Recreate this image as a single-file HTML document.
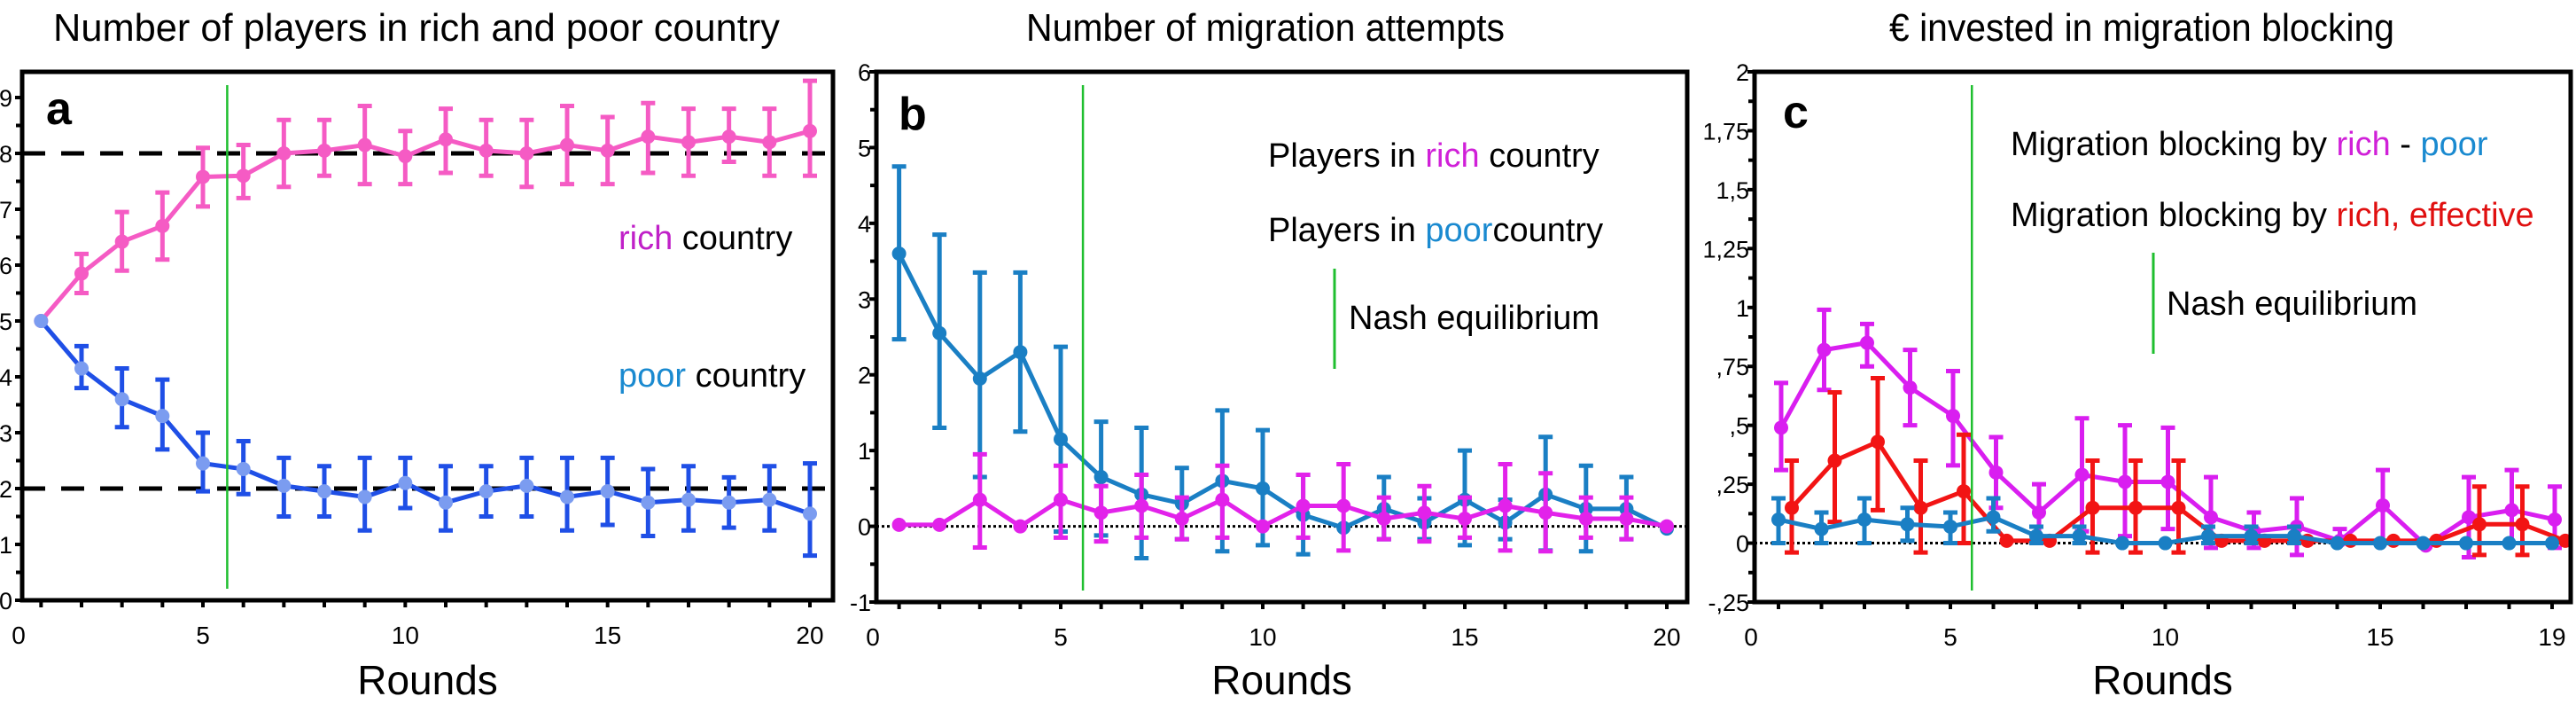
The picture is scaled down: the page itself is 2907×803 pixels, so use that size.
<!DOCTYPE html>
<html><head><meta charset="utf-8">
<style>
html,body{margin:0;padding:0;background:#fff;}
svg{display:block;font-family:"Liberation Sans",sans-serif;}
</style></head>
<body>
<svg id="chart" width="2907" height="803" viewBox="0 0 2907 803" xmlns="http://www.w3.org/2000/svg">
<rect x="0" y="0" width="2907" height="803" fill="#fff"/>
<text x="470" y="46" font-size="44" text-anchor="middle" textLength="820" lengthAdjust="spacingAndGlyphs">Number of players in rich and poor country</text>
<text x="1428" y="46" font-size="44" text-anchor="middle" textLength="540" lengthAdjust="spacingAndGlyphs">Number of migration attempts</text>
<text x="2417" y="46" font-size="44" text-anchor="middle" textLength="570" lengthAdjust="spacingAndGlyphs">€ invested in migration blocking</text>
<g id="layer"></g>
</svg>
<script>
// ---- Panel a data ----
const roundsA = [1,2,3,4,5,6,7,8,9,10,11,12,13,14,15,16,17,18,19,20];
const richA = [5.0,5.85,6.42,6.7,7.58,7.6,8.0,8.05,8.15,7.95,8.25,8.05,8.0,8.15,8.05,8.3,8.2,8.3,8.2,8.4];
const richALo = [null,5.5,5.9,6.1,7.05,7.2,7.4,7.6,7.45,7.45,7.65,7.6,7.4,7.45,7.45,7.65,7.6,7.85,7.6,7.6];
const richAHi = [null,6.2,6.95,7.3,8.1,8.15,8.6,8.6,8.85,8.4,8.8,8.6,8.6,8.85,8.65,8.9,8.8,8.8,8.8,9.3];
const poorA = [5.0,4.15,3.6,3.3,2.45,2.35,2.05,1.95,1.85,2.1,1.75,1.95,2.05,1.85,1.95,1.75,1.8,1.75,1.8,1.55];
const poorALo = [null,3.8,3.1,2.7,1.95,1.9,1.5,1.5,1.25,1.65,1.25,1.5,1.5,1.25,1.35,1.15,1.25,1.3,1.25,0.8];
const poorAHi = [null,4.55,4.15,3.95,3.0,2.85,2.55,2.4,2.55,2.55,2.4,2.4,2.55,2.55,2.55,2.35,2.4,2.2,2.4,2.45];
const yTicksA = [0,1,2,3,4,5,6,7,8,9];
const xTicksA = [0,5,10,15,20];
const nashA = 5.6;
const refLinesA = [2,8];
// ---- Panel b data ----
const roundsB = [1,2,3,4,5,6,7,8,9,10,11,12,13,14,15,16,17,18,19,20];
const poorB = [3.6,2.55,1.95,2.3,1.15,0.65,0.42,0.3,0.6,0.5,0.15,-0.02,0.23,0.05,0.35,0.05,0.42,0.23,0.23,-0.03];
const poorBLo = [2.47,1.3,0.65,1.25,-0.07,-0.12,-0.42,-0.17,-0.33,-0.25,-0.37,null,-0.17,-0.17,-0.25,-0.17,-0.32,-0.33,-0.17,null];
const poorBHi = [4.75,3.85,3.35,3.35,2.37,1.38,1.3,0.77,1.53,1.27,0.68,null,0.65,0.37,1.0,0.35,1.18,0.8,0.65,null];
const richB = [0.02,0.02,0.35,0.0,0.35,0.18,0.27,0.1,0.35,0.0,0.27,0.27,0.1,0.18,0.1,0.27,0.18,0.1,0.1,0.0];
const richBLo = [null,null,-0.28,null,-0.15,-0.2,-0.15,-0.17,-0.15,null,-0.15,-0.32,-0.17,-0.2,-0.15,-0.32,-0.33,-0.15,-0.17,null];
const richBHi = [null,null,0.95,null,0.8,0.53,0.68,0.38,0.8,null,0.68,0.82,0.38,0.53,0.38,0.82,0.7,0.38,0.38,null];
const yTicksB = [-1,0,1,2,3,4,5,6];
const xTicksB = [0,5,10,15,20];
const nashB = 5.55;
// ---- Panel c data ----
const roundsC = [1,2,3,4,5,6,7,8,9,10,11,12,13,14,15,16,17,18,19];
const richC = [0.49,0.82,0.85,0.66,0.54,0.3,0.13,0.29,0.26,0.26,0.11,0.05,0.07,0.01,0.16,-0.01,0.11,0.14,0.1];
const richCLo = [0.31,0.65,0.75,0.5,0.33,0.15,0.02,0.05,0.03,0.06,-0.02,-0.02,-0.05,0.0,0.0,null,-0.06,0.0,-0.02];
const richCHi = [0.68,0.99,0.93,0.82,0.73,0.45,0.25,0.53,0.5,0.49,0.28,0.13,0.19,0.06,0.31,null,0.28,0.31,0.24];
const effC = [0.15,0.35,0.43,0.15,0.22,0.01,0.01,0.15,0.15,0.15,0.01,0.01,0.01,0.01,0.01,0.01,0.08,0.08,0.01];
const effCLo = [-0.04,0.09,0.14,-0.04,0.0,null,null,-0.04,-0.04,-0.04,null,null,null,null,null,null,-0.05,-0.05,null];
const effCHi = [0.35,0.64,0.7,0.35,0.46,null,null,0.35,0.35,0.35,null,null,null,null,null,null,0.24,0.24,null];
const poorC = [0.1,0.06,0.1,0.08,0.07,0.11,0.03,0.03,0.0,0.0,0.03,0.03,0.03,0.0,0.0,0.0,0.0,0.0,0.0];
const poorCLo = [0.0,0.0,0.0,0.01,0.0,0.05,0.0,0.0,null,null,0.0,0.0,0.0,null,null,null,null,null,null];
const poorCHi = [0.19,0.13,0.19,0.15,0.13,0.19,0.07,0.07,null,null,0.07,0.07,0.07,null,null,null,null,null,null];
const yTicksC = [-0.25,0,0.25,0.5,0.75,1,1.25,1.5,1.75,2];
const yTickLabelsC = ["-,25","0",",25",",5",",75","1","1,25","1,5","1,75","2"];
const xTicksC = [0,5,10,15,19];
const nashC = 5.5;

const NS = "http://www.w3.org/2000/svg";
const layer = document.getElementById('layer');
function mk(tag, attrs, parent){
  const e = document.createElementNS(NS, tag);
  for (const k in attrs) e.setAttribute(k, attrs[k]);
  (parent||layer).appendChild(e);
  return e;
}
function scale(d0,d1,r0,r1){ return v => r0 + (v-d0)*(r1-r0)/(d1-d0); }

function drawSeries(g, xs, ys, lo, hi, X, Y, color, markColor, name){
  let d = '';
  xs.forEach((r,i)=>{ d += (i?'L':'M') + X(r) + ' ' + Y(ys[i]); });
  const p = mk('path',{d:d,fill:'none',stroke:color,'stroke-width':5,'stroke-linejoin':'round'},g);
  
  
  xs.forEach((r,i)=>{
    if (lo[i]!==null && hi[i]!==null){
      const x = X(r);
      const eb = mk('path',{d:`M${x} ${Y(lo[i])}L${x} ${Y(hi[i])}M${x-8} ${Y(lo[i])}L${x+8} ${Y(lo[i])}M${x-8} ${Y(hi[i])}L${x+8} ${Y(hi[i])}`,stroke:color,'stroke-width':5,fill:'none'},g);
      
      
    }
    const c = mk('circle',{cx:X(r),cy:Y(ys[i]),r:8,fill:markColor},g);
    
    
  });
}

function drawFrame(g, L, R, T, B, X, Y, yTicks, yLabels, yMinor, xTicks, xRounds, nash, label, lx, ly, panelName, labelRight){
  yTicks.forEach((v,i)=>{
    const y = Y(v);
    mk('line',{x1:L-8,x2:L,y1:y,y2:y,stroke:'#000','stroke-width':4},g);
    const t = mk('text',{x:labelRight?L-6:L-26,y:y+10,'font-size':27,'text-anchor':labelRight?'end':'start',fill:'#000'},g);
    t.textContent = yLabels[i];
    
    
  });
  yMinor.forEach(v=>{ mk('line',{x1:L-7,x2:L,y1:Y(v),y2:Y(v),stroke:'#000','stroke-width':4},g); });
  xRounds.forEach(r=>{ mk('line',{x1:X(r),x2:X(r),y1:B,y2:B+8,stroke:'#000','stroke-width':4},g); });
  xTicks.forEach(v=>{
    const t = mk('text',{x:v===0?L-4:X(v),y:B+49,'font-size':28,'text-anchor':'middle',fill:'#000'},g);
    t.textContent = String(v);
    
    
  });
  const fr = mk('rect',{x:L,y:T,width:R-L,height:B-T,fill:'none',stroke:'#000','stroke-width':5},g);
  
  
  const nl = mk('line',{x1:X(nash),x2:X(nash),y1:T+15,y2:B-13,stroke:'#1fbf2f','stroke-width':2.5},g);
  
  
  const lt = mk('text',{x:lx,y:ly,'font-size':52,'font-weight':'bold',fill:'#000'},g);
  lt.textContent = label;
  
  
  const xt = mk('text',{x:(L+R)/2,y:783,'font-size':46,'text-anchor':'middle',fill:'#000'},g);
  xt.textContent = 'Rounds';
  
  
}

function legendText(g, x, y, parts, name){
  const t = mk('text',{x:x,y:y,'font-size':38,fill:'#000'},g);
  
  
  parts.forEach(p=>{ const s = mk('tspan',{fill:p[1]},t); s.textContent = p[0]; });
  return t;
}

// ===== Panel a =====
(function(){
  const g = mk('g',{});
  
  
  const L=25,R=940,T=81,B=677;
  const Y = scale(0,9,677,110);
  const X = scale(5,20,229,914);
  refLinesA.forEach(v=>{
    const l = mk('line',{x1:L,x2:R,y1:Y(v),y2:Y(v),stroke:'#000','stroke-width':5,'stroke-dasharray':'26 18'},g);
    
    
  });
  drawSeries(g, roundsA, richA, richALo, richAHi, X, Y, '#f55bc4', '#f55bc4', 'rich-series');
  drawSeries(g, roundsA, poorA, poorALo, poorAHi, X, Y, '#1f4fe6', '#7b9cf0', 'poor-series');
  const minor = yTicksA.slice(0,-1).map(v=>v+0.5);
  drawFrame(g,L,R,T,B,X,Y,yTicksA,yTicksA.map(String),minor,xTicksA,roundsA,nashA,'a',52,140,'panel-a',false);
  legendText(g, 698, 281, [['rich','#c020c8'],['  country','#000']], 'legend-rich-country');
  legendText(g, 698, 436, [['poor','#1a8ad0'],['  country','#000']], 'legend-poor-country');
})();

// ===== Panel b =====
(function(){
  const g = mk('g',{});
  
  
  const L=989,R=1904,T=81,B=679;
  const Y = scale(-1,6,679,81);
  const X = scale(5,20,1197,1881);
  const z = mk('line',{x1:L,x2:R,y1:Y(0),y2:Y(0),stroke:'#000','stroke-width':3,'stroke-dasharray':'3 3'},g);
  
  
  drawSeries(g, roundsB, poorB, poorBLo, poorBHi, X, Y, '#1a7fc4', '#1a7fc4', 'poor-attempts');
  drawSeries(g, roundsB, richB, richBLo, richBHi, X, Y, '#e222ea', '#e222ea', 'rich-attempts');
  const minor = yTicksB.slice(0,-1).map(v=>v+0.5);
  drawFrame(g,L,R,T,B,X,Y,yTicksB,yTicksB.map(String),minor,xTicksB,roundsB,nashB,'b',1014,146,'panel-b',true);
  legendText(g, 1431, 188, [['Players in ','#000'],['rich','#d020d8'],['  country','#000']], 'legend-rich-players');
  legendText(g, 1431, 272, [['Players in ','#000'],['poor','#1a8ad0'],['country','#000']], 'legend-poor-players');
  const ln = mk('line',{x1:1506,x2:1506,y1:303,y2:416,stroke:'#1fbf2f','stroke-width':3},g);
  
  
  legendText(g, 1522, 371, [['Nash equilibrium','#000']], 'legend-nash');
})();

// ===== Panel c =====
(function(){
  const g = mk('g',{});
  
  
  const L=1980,R=2901,T=81,B=679;
  const Y = scale(-0.25,2,679,81);
  const X = scale(5,19,2201,2880);
  const z = mk('line',{x1:L,x2:R,y1:Y(0),y2:Y(0),stroke:'#000','stroke-width':3,'stroke-dasharray':'3 3'},g);
  
  
  const Xm = v => X(v)+3, Xr = v => X(v)+15;
  drawSeries(g, roundsC, richC, richCLo, richCHi, Xm, Y, '#d91ef0', '#d91ef0', 'rich-minus-poor');
  drawSeries(g, roundsC, effC, effCLo, effCHi, Xr, Y, '#f21414', '#f21414', 'rich-effective');
  drawSeries(g, roundsC, poorC, poorCLo, poorCHi, X, Y, '#1a7fc4', '#1a7fc4', 'poor-blocking');
  const minor = yTicksC.slice(0,-1).map(v=>v+0.125);
  const xr = []; for (let r=1;r<=19;r++) xr.push(r);
  drawFrame(g,L,R,T,B,X,Y,yTicksC,yTickLabelsC,minor,xTicksC,xr,nashC,'c',2012,144,'panel-c',true);
  legendText(g, 2269, 175, [['Migration blocking by ','#000'],['rich','#d020d8'],[' - ','#000'],['poor','#1a8ad0']], 'legend-rich-poor');
  legendText(g, 2269, 255, [['Migration blocking by ','#000'],['rich, effective','#e01010']], 'legend-rich-effective');
  const ln = mk('line',{x1:2430,x2:2430,y1:285,y2:399,stroke:'#1fbf2f','stroke-width':3},g);
  
  
  legendText(g, 2445, 355, [['Nash equilibrium','#000']], 'legend-nash');
})();
</script>
</body></html>
